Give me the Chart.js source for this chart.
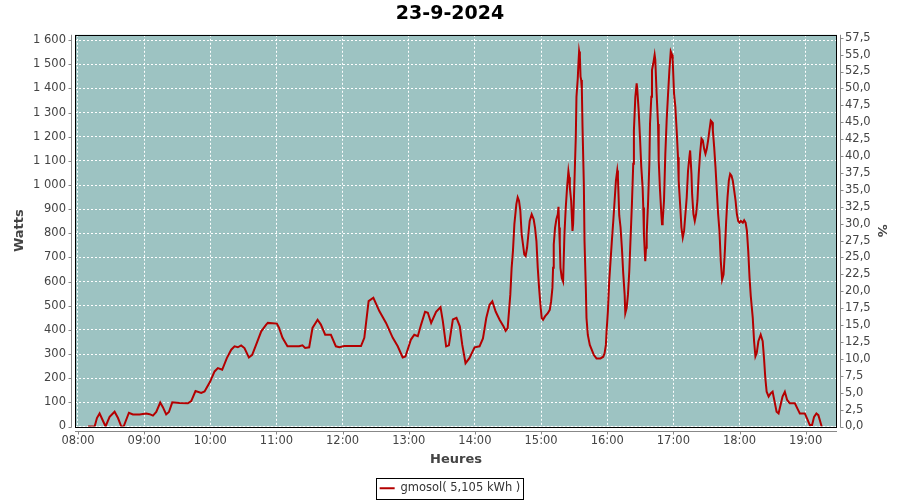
<!DOCTYPE html>
<html lang="fr">
<head>
<meta charset="UTF-8" />
<title>gmosol 23-9-2024</title>
<script src="https://cdn.jsdelivr.net/npm/chart.js"></script>
<style>
  html, body { margin: 0; padding: 0; background: #fff; }
  #chart { display: block; }
</style>
</head>
<body>
<canvas id="chart" width="900" height="500"></canvas>
<script>
  // sample times, in minutes after 08:00
  const tMin = [
    9.1, 15.1, 17.2, 19.6, 22, 25, 28.7, 33.2, 36.3, 39.3, 41.4, 46.2, 49.8, 55.9, 58.9, 61.9, 65, 68, 71, 74.6,
    77, 80, 82.5, 85.5, 92.1, 99.7, 102.7, 106.6, 111.8, 114.8, 119.9, 123.9, 126.9, 130.8, 135, 139, 142, 145, 148, 151,
    155, 158, 161.6, 166.2, 170.7, 172.2, 180.4, 182.4, 185.5, 190, 200.6, 203.6, 206, 209.7, 212.7, 217.3, 220.3, 224.2, 229.4, 233.9,
    237, 241.5, 256.7, 259.7, 263.6, 267.9, 273.3, 279.4, 285.5, 290, 294.5, 297, 302, 305, 308.2, 311.2, 314.8, 317.3, 320.3, 324.8,
    328.8, 330.9, 333.9, 336.4, 340, 343.3, 346.3, 348.5, 351.5, 355, 359.7, 364.2, 367.3, 370.3, 373.3, 375.8, 378.8, 382.4, 386, 387.9,
    389.7, 390.9, 392.1, 393.3, 394.5, 395.8, 397.6, 398.8, 400, 401.2, 402.4, 403.6, 404.8, 406, 407.3, 408.5, 409.7, 411.5, 413.3, 414.5,
    415.8, 417, 418.2, 419.4, 420.6, 421.8, 423.6, 426.1, 427.9, 429.1, 430.3, 430.9, 431.5, 432.7, 433.9, 435.2, 435.8, 436.4, 437, 437.6,
    438.8, 440, 441.2, 442.4, 443.6, 444.8, 445.5, 446.1, 447.3, 448.5, 449.1, 450.3, 451.5, 452.1, 453.3, 453.9, 454.5, 455.2, 455.8, 456.4,
    457, 457.6, 458.8, 459.4, 460.6, 461.2, 462.4, 464.2, 467.9, 470.3, 473.9, 476.4, 477.6, 478.8, 479.4, 480.6, 481.8, 483, 484.2, 485.5,
    486.7, 487.9, 489.1, 489.7, 490.9, 492.1, 493.3, 494.5, 495.8, 496.4, 497.6, 498.8, 500, 501.2, 502.4, 503.6, 504.2, 505.5, 506.7, 507.3,
    508.5, 509.7, 510.9, 512.1, 512.7, 513.3, 514.5, 515.2, 515.8, 517, 518.2, 518.8, 520, 520.6, 521.8, 523, 523.6, 524.8, 526.1, 526.7,
    527.9, 529.1, 529.7, 530.3, 531.5, 532.7, 533.9, 535.2, 536.4, 537.6, 538.8, 539.4, 540.6, 541.8, 543, 544.2, 544.8, 546.1, 547.3, 548.5,
    549.7, 550.9, 552.1, 553.3, 554.5, 555.2, 556.4, 557, 558.2, 559.4, 560.6, 561.8, 563, 564.2, 565.5, 566.7, 567.9, 569.1, 570.3, 571.5,
    572.7, 573.9, 575.2, 575.8, 577, 578.2, 579.4, 580.6, 581.8, 583, 584.2, 585.5, 586.7, 587.9, 589.1, 590.3, 591.5, 592.7, 593.9, 595.2,
    596.4, 597.6, 598.8, 600, 601.2, 603, 604.2, 605.5, 606.7, 607.9, 609.1, 610.2, 612, 613.2, 614.4, 615.6, 617.1, 619.2, 621, 622.2,
    623.4, 624.6, 626.4, 628.2, 630, 631.8, 633.6, 635.4, 637.2, 639, 641.1, 643.2, 645.6, 650.2, 653.2, 654.7, 659.2, 661.3, 663.7, 665.8,
    667.6, 669.7, 671.5, 674.5
  ];

  const watts = [
    0, 0, 35, 54, 30, 0, 40, 61, 35, 0, 0, 57, 50, 50, 52, 54, 51, 45, 60, 99,
    80, 50, 60, 100, 97, 96, 105, 147, 139, 145, 186, 228, 242, 235, 283, 318, 332, 328, 336, 325,
    286, 297, 339, 394, 422, 429, 426, 408, 367, 332, 332, 336, 325, 328, 408, 442, 422, 380, 380, 332,
    328, 333, 333, 367, 519, 533, 478, 429, 367, 332, 286, 290, 360, 380, 374, 422, 475, 471, 429, 475,
    494, 436, 332, 336, 443, 450, 415, 339, 262, 283, 328, 332, 365, 449, 504, 518, 476, 442, 414, 396,
    407, 476, 546, 657, 726, 838, 921, 949, 935, 893, 796, 754, 712, 706, 740, 796, 851, 879, 858, 824,
    768, 657, 574, 504, 449, 442, 456, 469, 483, 518, 574, 657, 754, 824, 858, 879, 910, 824, 754, 657,
    615, 600, 796, 907, 990, 1057, 1032, 990, 935, 810, 840, 1018, 1199, 1365, 1442, 1504, 1553, 1532, 1449, 1435,
    1393, 1240, 1004, 768, 574, 449, 379, 338, 296, 282, 282, 289, 303, 338, 393, 476, 601, 685, 768, 851,
    935, 1018, 1060, 1032, 874, 824, 740, 636, 546, 469, 490, 546, 643, 782, 921, 1088, 1226, 1365, 1421, 1393,
    1310, 1199, 1074, 990, 907, 796, 685, 740, 796, 921, 1088, 1253, 1365, 1476, 1504, 1539, 1518, 1379, 1253, 1101,
    976, 879, 837, 851, 935, 1129, 1267, 1379, 1476, 1553, 1539, 1518, 1379, 1324, 1226, 1115, 1018, 921, 824, 782,
    810, 879, 949, 1060, 1115, 1143, 1046, 962, 879, 851, 879, 935, 1046, 1129, 1192, 1185, 1150, 1129, 1150, 1185,
    1226, 1267, 1260, 1226, 1157, 1074, 976, 879, 810, 685, 608, 629, 726, 851, 949, 1018, 1046, 1039, 1018, 976,
    935, 879, 851, 844, 851, 844, 854, 844, 810, 726, 615, 540, 450, 353, 290, 304, 353, 380, 353, 283,
    200, 144, 124, 137, 144, 103, 61, 54, 89, 124, 144, 110, 96, 96, 68, 54, 54, 33, 6, 6,
    40, 54, 47, 0
  ];

  const hourLabels = ['08:00', '09:00', '10:00', '11:00', '12:00', '13:00', '14:00', '15:00', '16:00', '17:00', '18:00', '19:00'];
  const wattTicks = [0, 100, 200, 300, 400, 500, 600, 700, 800, 900, 1000, 1100, 1200, 1300, 1400, 1500, 1600];
  const pctTicks = [0, 2.5, 5, 7.5, 10, 12.5, 15, 17.5, 20, 22.5, 25, 27.5, 30, 32.5, 35, 37.5, 40, 42.5, 45, 47.5, 50, 52.5, 55, 57.5];

  const seriesLabel = 'gmosol( 5,105 kWh )';
  const X_MIN = 477.3, X_MAX = 1168.4;   // minutes since midnight
  const Y_MAX = 1622;
  const WATTS_PER_PCT = 28;              // 100 % = 2800 W

  const toMin = s => { const [h, m] = s.split(':').map(Number); return h * 60 + m; };
  const hhmm = v => String(Math.floor(v / 60)).padStart(2, '0') + ':' + String(Math.round(v % 60)).padStart(2, '0');
  const thousands = v => v >= 1000 ? Math.floor(v / 1000) + ' ' + String(v % 1000).padStart(3, '0') : String(v);

  const TICK_FONT = { family: 'DejaVu Sans', size: 11.5 };
  const TICK_COLOR = '#444';
  const AXIS_GRAY = '#888';

  const frame = {
    id: 'frame',
    beforeDraw(chart) {
      const { ctx, chartArea: a } = chart;
      ctx.save();
      ctx.fillStyle = '#9dc3c2';
      ctx.fillRect(a.left, a.top, a.right - a.left, a.bottom - a.top);
      ctx.restore();
    },
    beforeDatasetsDraw(chart) {
      const { ctx, chartArea: a } = chart;
      ctx.save();
      ctx.strokeStyle = '#000';
      ctx.lineWidth = 1;
      ctx.strokeRect(Math.round(a.left) + 0.5, Math.round(a.top) + 0.5,
        Math.round(a.right - a.left) - 1, Math.round(a.bottom - a.top));
      ctx.restore();
    },
    afterDraw(chart) {
      const { ctx, chartArea: a, scales } = chart;
      ctx.save();
      ctx.strokeStyle = AXIS_GRAY;
      ctx.lineWidth = 1;
      ctx.beginPath();
      // offset axis lines
      const lx = Math.round(a.left) - 4 + 0.5;
      const rx = Math.round(a.right) + 3 + 0.5;
      const by = Math.round(a.bottom) + 4 + 0.5;
      ctx.moveTo(lx, a.top); ctx.lineTo(lx, a.bottom + 1);
      ctx.moveTo(rx, a.top); ctx.lineTo(rx, a.bottom + 1);
      ctx.moveTo(a.left, by); ctx.lineTo(a.right, by);
      scales.y.ticks.forEach(t => {
        const y = Math.round(scales.y.getPixelForValue(t.value)) + 0.5;
        ctx.moveTo(lx - 3, y); ctx.lineTo(lx, y);
      });
      scales.y1.ticks.forEach(t => {
        const y = Math.round(scales.y1.getPixelForValue(t.value)) + 0.5;
        ctx.moveTo(rx, y); ctx.lineTo(rx + 3, y);
      });
      scales.x.ticks.forEach(t => {
        const x = Math.round(scales.x.getPixelForValue(t.value)) + 0.5;
        ctx.moveTo(x, by); ctx.lineTo(x, by + 3);
      });
      ctx.stroke();

      // box round the legend
      const hb = chart.legend.legendHitBoxes[0];
      if (hb) {
        ctx.strokeStyle = '#000';
        ctx.strokeRect(Math.round(hb.left) - 3.5, Math.round(hb.top) - 4.5, Math.round(hb.width) + 6, Math.round(hb.height) + 9);
      }
      ctx.restore();
    }
  };

  new Chart(document.getElementById('chart'), {
    type: 'line',
    data: {
      datasets: [{
        label: seriesLabel,
        data: tMin.map((t, i) => ({ x: 480 + t, y: watts[i] })),
        borderColor: '#b40000',
        backgroundColor: '#b40000',
        borderWidth: 2,
        pointRadius: 0,
        tension: 0,
        fill: false,
        yAxisID: 'y'
      }]
    },
    options: {
      responsive: false,
      animation: false,
      layout: { padding: 0 },
      plugins: {
        title: {
          display: true,
          text: '23-9-2024',
          color: '#000',
          font: { family: 'DejaVu Sans', size: 19, weight: 'bold' },
          padding: { top: 3, bottom: 9 }
        },
        legend: {
          position: 'bottom',
          maxHeight: 25.5,
          labels: {
            usePointStyle: true,
            pointStyle: 'line',
            pointStyleWidth: 15,
            boxHeight: 11,
            padding: 8,
            color: '#333',
            font: TICK_FONT
          }
        },
        tooltip: { enabled: false }
      },
      scales: {
        x: {
          type: 'linear',
          min: X_MIN,
          max: X_MAX,
          afterBuildTicks: s => { s.ticks = hourLabels.map(h => ({ value: toMin(h) })); },
          afterFit: s => { s.height = 48; },
          ticks: { callback: v => hhmm(v), color: TICK_COLOR, font: TICK_FONT, padding: 8, maxRotation: 0, autoSkip: false },
          grid: { color: '#fff', lineWidth: 1, drawTicks: false },
          border: { display: false, dash: [2, 2] },
          title: { display: true, text: 'Heures', color: '#444', font: { family: 'DejaVu Sans', size: 13, weight: 'bold' }, padding: { top: 0, bottom: 7 } }
        },
        y: {
          position: 'left',
          min: 0,
          max: Y_MAX,
          afterBuildTicks: s => { s.ticks = wattTicks.map(v => ({ value: v })); },
          afterFit: s => { s.width = 75; },
          ticks: { callback: v => thousands(v), color: TICK_COLOR, font: TICK_FONT, padding: 9, autoSkip: false },
          grid: { color: '#fff', lineWidth: 1, drawTicks: false },
          border: { display: false, dash: [2, 2] },
          title: { display: true, text: 'Watts', color: '#444', font: { family: 'DejaVu Sans', size: 13, weight: 'bold' }, padding: { top: 12, bottom: 0 } }
        },
        y1: {
          position: 'right',
          min: 0,
          max: Y_MAX / WATTS_PER_PCT,
          afterBuildTicks: s => { s.ticks = pctTicks.map(v => ({ value: v })); },
          afterFit: s => { s.width = 63; },
          ticks: { callback: v => v.toFixed(1).replace('.', ','), color: TICK_COLOR, font: TICK_FONT, padding: 8, autoSkip: false },
          grid: { display: false, drawTicks: false },
          border: { display: false },
          title: { display: true, text: '%', color: '#444', font: { family: 'DejaVu Sans', size: 13, weight: 'bold' }, padding: { top: 11, bottom: 0 } }
        }
      }
    },
    plugins: [frame]
  });
</script>
</body>
</html>
